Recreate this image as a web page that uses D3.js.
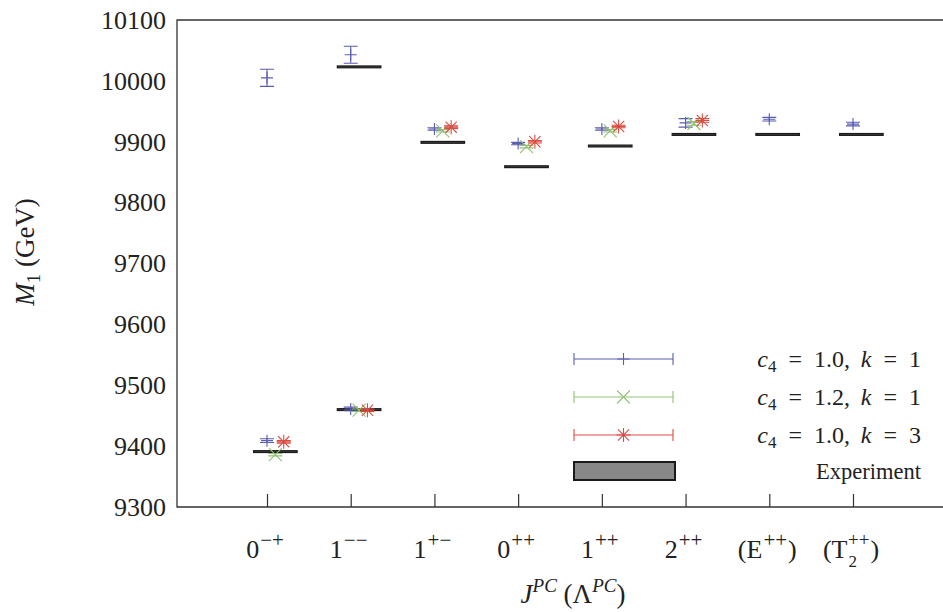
<!DOCTYPE html>
<html>
<head>
<meta charset="utf-8">
<script src="https://cdn.jsdelivr.net/npm/d3@7"></script>
<style>
  body { margin: 0; background: #fff; }
  svg { display: block; }
  svg text { font-family: "Liberation Serif", "DejaVu Serif", serif !important; fill: #222; }
</style>
</head>
<body>
<svg id="chart" width="943" height="612"></svg>
<script>
// Channel labels J^PC (and lattice irreps Λ^PC)
const tickPos   = [1, 2, 3, 4, 5, 6, 7, 8];
const tickBase  = ["0", "1", "1", "0", "1", "2", "(E", "(T"];
const tickSup   = ["−+", "−−", "+−", "++", "++", "++", "++", "++"];
const tickSub   = ["", "", "", "", "", "", "", "2"];
const tickClose = ["", "", "", "", "", "", ")", ")"];
const yTicks = [9300, 9400, 9500, 9600, 9700, 9800, 9900, 10000, 10100];

// c4 = 1.0, k = 1
const blueCat  = [1, 1, 2, 2, 3, 4, 5, 6, 7, 8];
const blueMass = [9409, 10005, 9461, 10043, 9921, 9897, 9921, 9931, 9937, 9929];
const blueErr  = [3, 14, 3, 14, 2, 2, 2, 7, 3, 3];

// c4 = 1.2, k = 1
const greenCat  = [1, 2, 3, 4, 5, 6];
const greenMass = [9386, 9459, 9918, 9892, 9918, 9930];
const greenErr  = [2, 2, 2, 2, 2, 3];

// c4 = 1.0, k = 3
const redCat  = [1, 2, 3, 4, 5, 6];
const redMass = [9407, 9459, 9924, 9900, 9925, 9935];
const redErr  = [2, 2, 2, 2, 2, 3];

// Experiment
const expCat  = [1, 2, 2, 3, 4, 5, 6, 7, 8];
const expMass = [9391, 9460, 10023, 9899, 9859, 9893, 9912, 9912, 9912];
const expErr  = [1.5, 1.5, 1.5, 1.5, 1.5, 1.5, 1.5, 1.5, 1.5];

const legendLabels = [
  ["c", "4", "1.0,", "k", "1"],
  ["c", "4", "1.2,", "k", "1"],
  ["c", "4", "1.0,", "k", "3"],
];

const blue = "#5a5db0", green = "#93c173", red = "#db4d43";
const serif = "'Liberation Serif', 'DejaVu Serif', serif";

const svg = d3.select("#chart");
const plotL = 177, plotR = 943, plotT = 20, plotB = 507;

const x = d3.scaleLinear().domain([-0.075, 9.075]).range([plotL, plotR]);
const y = d3.scaleLinear().domain([9300, 10100]).range([plotB, plotT]);

// frame
svg.append("path")
  .attr("d", `M${plotR + 2},${plotT}H${plotL}V${plotB}H${plotR + 2}`)
  .attr("fill", "none").attr("stroke", "#333").attr("stroke-width", 1.3);

// x axis ticks (inward)
const xAxis = d3.axisBottom(x).tickValues(tickPos).tickSize(-13).tickFormat("");
const gx = svg.append("g").attr("transform", `translate(0,${plotB})`).call(xAxis);
gx.select(".domain").remove();
gx.selectAll(".tick line").attr("stroke", "#333").attr("stroke-width", 1.2);

// x tick labels
tickPos.forEach((p, i) => {
  const t = svg.append("text")
    .attr("x", x(p) - 2).attr("y", 558)
    .attr("text-anchor", "middle")
    .style("font-size", "26px");
  t.append("tspan").text(tickBase[i]);
  if (tickSub[i]) {
    t.append("tspan").style("font-size", "17px").attr("dx", 1).attr("dy", 9).text(tickSub[i]);
    t.append("tspan").style("font-size", "19px").attr("dx", -9).attr("dy", -21).text(tickSup[i]);
    t.append("tspan").attr("dx", 1).attr("dy", 12).text(tickClose[i]);
  } else {
    t.append("tspan").style("font-size", "21px").attr("dx", 1).attr("dy", -11).text(tickSup[i]);
    if (tickClose[i]) t.append("tspan").attr("dx", 1).attr("dy", 11).text(tickClose[i]);
  }
});

// y axis labels
const yAxis = d3.axisLeft(y).tickValues(yTicks).tickSize(0).tickPadding(11).tickFormat(d3.format("d"));
const gy = svg.append("g").attr("transform", `translate(${plotL},0)`).call(yAxis);
gy.select(".domain").remove();
gy.attr("font-family", null).attr("font-size", null);
gy.selectAll(".tick text")
  .style("font-family", serif)
  .style("font-size", "26px").attr("fill", "#222");

// axis titles
const xt = svg.append("text").attr("x", 573).attr("y", 603)
  .attr("text-anchor", "middle").style("font-size", "27px");
xt.append("tspan").attr("font-style", "italic").text("J");
xt.append("tspan").attr("font-style", "italic").style("font-size", "19px").attr("dy", -11).text("PC");
xt.append("tspan").attr("dy", 11).text(" (Λ");
xt.append("tspan").attr("font-style", "italic").style("font-size", "19px").attr("dy", -11).text("PC");
xt.append("tspan").attr("dy", 11).text(")");

const yt = svg.append("text")
  .attr("transform", "translate(34,252) rotate(-90)")
  .attr("text-anchor", "middle").style("font-size", "27px");
yt.append("tspan").attr("font-style", "italic").text("M");
yt.append("tspan").style("font-size", "19px").attr("dy", 6).text("1");
yt.append("tspan").attr("dy", -6).text(" (GeV)");

// marker shapes
const plus = s => `M${-s},0H${s}M0,${-s}V${s}`;
const cross = s => `M${-s},${-s}L${s},${s}M${-s},${s}L${s},${-s}`;
const star = s => plus(s) + cross(s * 0.8);

function drawSeries(cat, mass, err, offset, color, shape) {
  const g = svg.append("g").attr("stroke", color).attr("stroke-width", 1.1).attr("fill", "none");
  cat.forEach((c, i) => {
    const cx = x(c + offset);
    const y0 = y(mass[i] + err[i]), y1 = y(mass[i] - err[i]), cy = y(mass[i]);
    g.append("path")
      .attr("d", `M${cx},${y0}V${y1}M${cx - 7},${y0}H${cx + 7}M${cx - 7},${y1}H${cx + 7}`);
    g.append("path").attr("transform", `translate(${cx},${cy})`).attr("d", shape);
  });
}

// experimental values as thin boxes
const ge = svg.append("g");
expCat.forEach((c, i) => {
  ge.append("rect")
    .attr("x", x(c + 0.1 - 0.26)).attr("width", x(0.52) - x(0))
    .attr("y", y(expMass[i] + expErr[i]))
    .attr("height", y(expMass[i] - expErr[i]) - y(expMass[i] + expErr[i]))
    .attr("fill", "#444").attr("stroke", "#1a1a1a").attr("stroke-width", 1.2);
});

drawSeries(blueCat, blueMass, blueErr, 0, blue, plus(6));
drawSeries(greenCat, greenMass, greenErr, 0.1, green, cross(6.5));
drawSeries(redCat, redMass, redErr, 0.2, red, star(7));

// legend
const legY = [359, 397, 435, 471];
const legX0 = 574, legX1 = 673, legTextX = 921;
const legColors = [blue, green, red];
const legShapes = [plus(6), cross(6.5), star(7)];
const ensp = "\u2002", thin = "\u2009";
legColors.forEach((col, i) => {
  const g = svg.append("g").attr("stroke", col).attr("stroke-width", 1.1).attr("fill", "none");
  g.append("path").attr("d",
    `M${legX0},${legY[i]}H${legX1}M${legX0},${legY[i] - 6}V${legY[i] + 6}M${legX1},${legY[i] - 6}V${legY[i] + 6}`);
  g.append("path").attr("transform", `translate(${(legX0 + legX1) / 2},${legY[i]})`).attr("d", legShapes[i]);
  const parts = legendLabels[i];
  const t = svg.append("text").attr("x", legTextX).attr("y", legY[i] + 8)
    .attr("text-anchor", "end").style("font-size", "24px");
  t.append("tspan").attr("font-style", "italic").text(parts[0]);
  t.append("tspan").style("font-size", "17px").attr("dy", 5).text(parts[1]);
  t.append("tspan").attr("dy", -5).text(ensp + "=" + ensp + parts[2] + " " + thin);
  t.append("tspan").attr("font-style", "italic").text(parts[3]);
  t.append("tspan").text(ensp + "=" + ensp + parts[4]);
});
svg.append("rect").attr("x", legX0).attr("y", legY[3] - 9).attr("width", legX1 - legX0 + 2).attr("height", 18)
  .attr("fill", "#888").attr("stroke", "#1a1a1a").attr("stroke-width", 2);
svg.append("text").attr("x", legTextX).attr("y", legY[3] + 8)
  .attr("text-anchor", "end").style("font-size", "22.5px").text("Experiment");
</script>
</body>
</html>
